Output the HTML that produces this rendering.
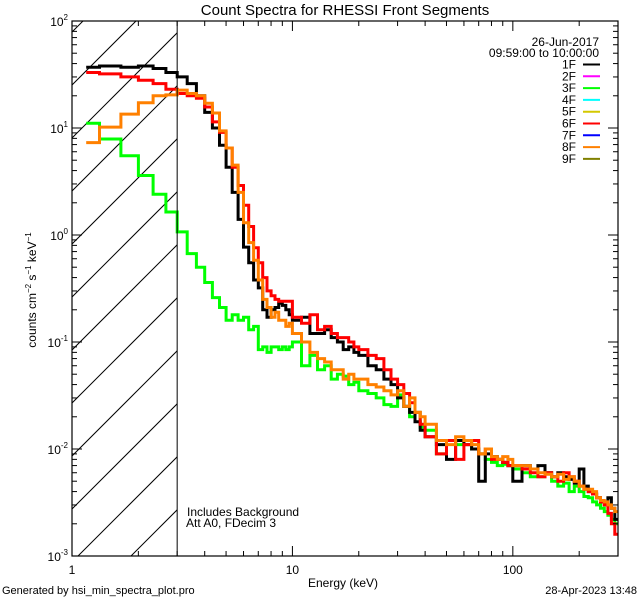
<!DOCTYPE html>
<html><head><meta charset="utf-8"><style>
html,body{margin:0;padding:0;background:#fff;width:640px;height:600px;overflow:hidden;}
svg{display:block;}
svg text{font-family:"Liberation Sans",sans-serif;fill:#000;}
</style></head><body>
<svg id="chart" width="640" height="600" xmlns="http://www.w3.org/2000/svg">
<rect width="640" height="600" fill="#fff"/>
<text x="345" y="15" font-size="15" text-anchor="middle">Count Spectra for RHESSI Front Segments</text>
<g id="hatch"></g>
<g id="series"></g>
<g id="axes"></g>
<text x="599" y="46" font-size="12" text-anchor="end">26-Jun-2017</text>
<text x="599" y="57" font-size="12" text-anchor="end">09:59:00 to 10:00:00</text>
<g id="legend"></g>
<text x="187" y="516" font-size="12">Includes Background</text>
<text x="186" y="527" font-size="12">Att A0, FDecim 3</text>
<text x="343" y="587" font-size="12" text-anchor="middle">Energy (keV)</text>
<text transform="translate(36,290) rotate(-90)" font-size="12" text-anchor="middle">counts cm<tspan font-size="8" dy="-5">−2</tspan><tspan dy="5"> s</tspan><tspan font-size="8" dy="-5">−1</tspan><tspan dy="5"> keV</tspan><tspan font-size="8" dy="-5">−1</tspan></text>
<text x="2" y="594" font-size="11">Generated by hsi_min_spectra_plot.pro</text>
<text x="637" y="594" font-size="11" text-anchor="end">28-Apr-2023 13:48</text>
</svg>
<script>
const edges=[1.16,1.333,1.667,2,2.333,2.667,3,3.333,3.667,4,4.333,4.667,5,5.333,5.667,6,6.333,6.667,7,7.333,7.667,8,8.333,8.667,9,9.333,9.667,10,11,12,13,14,15,16,17,18,19,20,22,24,26,28,30,32,34,36,38,40,45,50,55,60,65,70,75,80,85,90,95,100,110,120,130,140,150,160,170,180,190,200,210,220,230,240,250,260,270,280,290,300];
const seg1F=[37,38,37,38,36,33,30,26,20,14,10,6.9,4.3,2.5,1.4,0.77,0.55,0.38,0.32,0.2,0.17,0.2,0.21,0.23,0.22,0.2,0.18,
0.16,0.17,0.12,0.12,0.13,0.11,0.1,0.085,0.09,0.08,
0.075,0.06,0.055,0.045,0.04,0.03,0.025,0.022,0.018,0.015,
0.013,0.011,0.008,0.012,0.011,0.01,0.005,0.009,0.0085,0.008,0.0075,0.007,
0.005,0.007,0.0065,0.007,0.006,0.0055,0.006,0.0055,0.0052,0.0048,0.0065,0.0045,0.004,0.0038,0.0035,0.0032,0.003,0.0035,0.0028,0.0022];
const seg3F=[11.1,7.9,5.5,3.6,2.4,1.64,1.07,0.67,0.5,0.36,0.26,0.21,0.16,0.18,0.16,0.17,0.13,0.14,0.085,0.09,0.08,0.09,0.09,0.085,0.09,0.085,0.09,
0.1,0.06,0.075,0.055,0.06,0.045,0.05,0.048,0.04,0.042,
0.035,0.033,0.03,0.026,0.025,0.032,0.025,0.02,0.022,0.016,
0.015,0.009,0.012,0.011,0.012,0.01,0.009,0.008,0.0075,0.007,0.0072,0.007,
0.0065,0.006,0.0055,0.0055,0.006,0.005,0.0045,0.0048,0.004,0.0045,0.004,0.0036,0.0035,0.0032,0.003,0.0028,0.0026,0.0024,0.0022,0.002];
const seg6F=[33,32,30,28,26,23,21,20,19,15.7,11.4,9.1,6.5,4.3,2.9,1.9,1.2,0.76,0.55,0.4,0.3,0.27,0.25,0.24,0.24,0.24,0.24,
0.17,0.15,0.18,0.13,0.14,0.12,0.11,0.11,0.1,0.09,
0.085,0.075,0.07,0.055,0.045,0.04,0.033,0.027,0.022,0.017,
0.013,0.009,0.012,0.008,0.011,0.012,0.009,0.01,0.008,0.008,0.0075,0.007,
0.007,0.0065,0.006,0.0055,0.006,0.0055,0.005,0.006,0.0055,0.005,0.0045,0.0042,0.004,0.0038,0.0035,0.0032,0.003,0.0025,0.002,0.0016];
const seg8F=[7.3,10.2,13.5,17.2,20,20.4,22.6,21,20,17,13.8,9.4,6.5,4.5,2.5,1.3,0.85,0.58,0.38,0.25,0.21,0.17,0.19,0.16,0.16,0.14,0.15,
0.12,0.1,0.08,0.07,0.065,0.055,0.055,0.045,0.05,0.045,
0.045,0.04,0.038,0.035,0.032,0.035,0.025,0.03,0.022,0.02,
0.017,0.012,0.011,0.013,0.012,0.011,0.009,0.01,0.0085,0.008,0.0085,0.008,
0.007,0.007,0.0065,0.006,0.0058,0.0055,0.0058,0.0052,0.0055,0.005,0.0045,0.0042,0.0042,0.004,0.0035,0.0033,0.0032,0.003,0.0028,0.0026];
const legendLabels=["1F","2F","3F","4F","5F","6F","7F","8F","9F"];
const legendColors=["#000000","#ff00ff","#00ff00","#00ffff","#d4c800","#ff0000","#0000ff","#ff8000","#808000"];
const xTickValues=[1,10,100];
const xTickLabels=["1","10","100"];
const yTickExps=[-3,-2,-1,0,1,2];

const NS="http://www.w3.org/2000/svg";
const L=72,R=618,T=21,B=556;
const XMIN=1,XMAX=300,YMIN=-3,YMAX=2;
function xs(v){return L+(Math.log10(v)-Math.log10(XMIN))/(Math.log10(XMAX)-Math.log10(XMIN))*(R-L);}
function ys(v){return B-(Math.log10(v)-YMIN)/(YMAX-YMIN)*(B-T);}
function mk(tag,attrs,parent){const e=document.createElementNS(NS,tag);for(const k in attrs)e.setAttribute(k,attrs[k]);parent.appendChild(e);return e;}

const defs=mk('defs',{},document.getElementById('chart'));
const cp=mk('clipPath',{id:'plotclip'},defs);
mk('rect',{x:L,y:T,width:R-L,height:B-T},cp);
const hc=mk('clipPath',{id:'hatchclip'},defs);
mk('rect',{x:L,y:T,width:xs(3)-L,height:B-T},hc);

const hg=document.getElementById('hatch');
hg.setAttribute('clip-path','url(#hatchclip)');
for(let c=104-53*2;c<B+200;c+=53){
  const ln=mk('line',{x1:L-50,y1:c-(L-50),x2:L+200,y2:c-(L+200),stroke:'#000','stroke-width':1},hg);
  
  
}
const vl=mk('line',{x1:xs(3),y1:T,x2:xs(3),y2:B,stroke:'#000','stroke-width':1},hg.parentNode);



const sg=document.getElementById('series');
sg.setAttribute('clip-path','url(#plotclip)');
function stepPath(vals){
  let d='';
  for(let i=0;i<vals.length;i++){
    const x0=xs(edges[i]),x1=xs(edges[i+1]),y=ys(vals[i]);
    d+=(i===0?'M':'L')+x0.toFixed(1)+' '+y.toFixed(1)+' L'+x1.toFixed(1)+' '+y.toFixed(1)+' ';
  }
  return d;
}
const seriesList=[[seg3F,'#00ff00','series-3f'],[seg1F,'#000000','series-1f'],[seg6F,'#ff0000','series-6f'],[seg8F,'#ff8000','series-8f']];
for(const [vals,col,name] of seriesList){
  const p=mk('path',{d:stepPath(vals),fill:'none',stroke:col,'stroke-width':3,'stroke-linejoin':'miter'},sg);
  
  
}

const ag=document.getElementById('axes');
const frame=mk('rect',{x:L,y:T,width:R-L,height:B-T,fill:'none',stroke:'#000','stroke-width':1.2},ag);


for(let dec=1;dec<=100;dec*=10){
  for(let m=1;m<10;m++){
    const v=dec*m; if(v>XMAX)break;
    const x=xs(v),len=(m===1)?10:5;
    mk('line',{x1:x,y1:B,x2:x,y2:B-len,stroke:'#000'},ag);
    mk('line',{x1:x,y1:T,x2:x,y2:T+len,stroke:'#000'},ag);
  }
}
xTickValues.forEach((v,i)=>{
  const t=mk('text',{x:xs(v),y:B+18,'font-size':12,'text-anchor':'middle'},ag);
  t.textContent=xTickLabels[i];
  
  
});
yTickExps.forEach(e=>{
  const base=Math.pow(10,e);
  for(let m=1;m<10;m++){
    if(e===2&&m>1)break;
    const y=ys(base*m),len=(m===1)?10:5;
    mk('line',{x1:L,y1:y,x2:L+len,y2:y,stroke:'#000'},ag);
    mk('line',{x1:R,y1:y,x2:R-len,y2:y,stroke:'#000'},ag);
  }
  const t=mk('text',{x:L-4,y:ys(base)+5,'font-size':12,'text-anchor':'end'},ag);
  
  
  t.innerHTML='10<tspan font-size="8" dy="-6">'+e+'</tspan>';
});

const lg=document.getElementById('legend');
legendLabels.forEach((lab,i)=>{
  const y=64.5+i*11.8;
  const t=mk('text',{x:576,y:y+4,'font-size':12,'text-anchor':'end'},lg);
  t.textContent=lab;
  
  
  const l=mk('line',{x1:583,y1:y,x2:600,y2:y,stroke:legendColors[i],'stroke-width':2},lg);
  
  
});
</script>
</body></html>
